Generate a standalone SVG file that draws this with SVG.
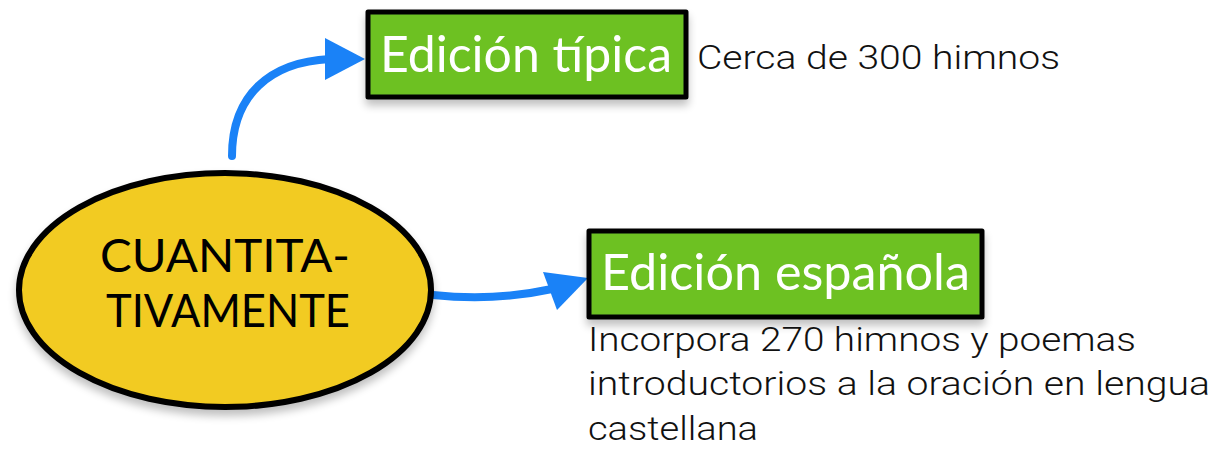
<svg xmlns="http://www.w3.org/2000/svg" width="1218" height="455" viewBox="0 0 1218 455">
<style>
.box{fill:#6DC124;stroke:#000;stroke-width:5;stroke-linejoin:round}
.lbl{font-family:Lato,"Open Sans",sans-serif;fill:#fff;font-size:50px}
.note{font-family:Roboto,"Liberation Sans",sans-serif;font-weight:300;fill:#111;font-size:34px}
.conn{fill:none;stroke:#1A82F7;stroke-width:8;stroke-linecap:round}
.head{fill:#1A82F7}
</style>
<defs>
<filter id="sh" x="-10%" y="-20%" width="120%" height="150%">
<feGaussianBlur in="SourceAlpha" stdDeviation="4"/>
<feOffset dx="0" dy="6" result="b"/>
<feComponentTransfer><feFuncA type="linear" slope="0.25"/></feComponentTransfer>
<feMerge><feMergeNode/><feMergeNode in="SourceGraphic"/></feMerge>
</filter>
</defs>
<g id="connectors">
<path class="conn" d="M232,156 C232,95 270,62 330,59"/>
<polygon class="head" points="325,38 365,59 325,80"/>
<path class="conn" d="M433,295 C480,300 520,296 552,289"/>
<polygon class="head" points="543,272 588,278 557,310"/>
</g>
<g id="node-center">
<ellipse cx="225" cy="290" rx="206" ry="117" fill="#F2CB22" stroke="#000" stroke-width="6" filter="url(#sh)"/>
<text x="225" y="272" text-anchor="middle" font-family="Lato,'Open Sans',sans-serif" font-size="46" fill="#000" textLength="250" lengthAdjust="spacingAndGlyphs">CUANTITA-</text>
<text x="228" y="327" text-anchor="middle" font-family="Lato,'Open Sans',sans-serif" font-size="46" fill="#000" textLength="244" lengthAdjust="spacingAndGlyphs">TIVAMENTE</text>
</g>
<g id="node-tipica">
<rect class="box" x="368" y="12" width="318" height="85" filter="url(#sh)"/>
<text class="lbl" x="380" y="72" textLength="292" lengthAdjust="spacingAndGlyphs">Edición típica</text>
<text class="note" x="697" y="69" textLength="363" lengthAdjust="spacingAndGlyphs">Cerca de 300 himnos</text>
</g>
<g id="node-espanola">
<rect class="box" x="589" y="231" width="393" height="86" filter="url(#sh)"/>
<text class="lbl" x="601" y="290" textLength="369" lengthAdjust="spacingAndGlyphs">Edición española</text>
<text class="note" x="588" y="351" textLength="548" lengthAdjust="spacingAndGlyphs">Incorpora 270 himnos y poemas</text>
<text class="note" x="588" y="395" textLength="622" lengthAdjust="spacingAndGlyphs">introductorios a la oración en lengua</text>
<text class="note" x="588" y="440" textLength="170" lengthAdjust="spacingAndGlyphs">castellana</text>
</g>
</svg>
